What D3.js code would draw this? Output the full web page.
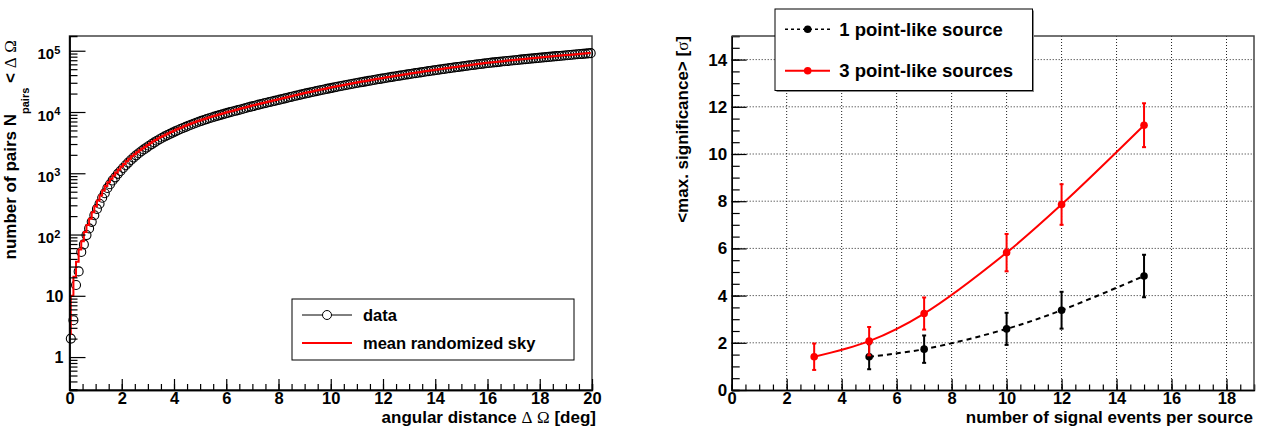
<!DOCTYPE html>
<html>
<head>
<meta charset="utf-8">
<title>pairs and significance</title>
<script src="https://cdn.jsdelivr.net/npm/d3@7"></script>
<style>
  body { margin: 0; background: #fff; }
  svg text { font-family: "Liberation Sans", Arial, Helvetica, sans-serif; font-weight: bold; fill: #000; white-space: pre; }
  .greek { font-family: "Liberation Serif", "DejaVu Serif", serif; font-weight: normal; }
</style>
</head>
<body>
<svg id="chart" width="1262" height="428"></svg>
<script>
// ---- left panel: cumulative number of pairs, bins of 0.1 deg from 0 to 20 deg
const binWidth = 0.1;
const pairsData = [
  2, 4, 15, 25, 52, 69, 98, 126, 161, 206,
  262, 318, 398, 472, 575, 661, 764, 858, 978, 1088,
  1221, 1352, 1494, 1645, 1804, 1964, 2121, 2284, 2453, 2628,
  2809, 2997, 3190, 3389, 3595, 3797, 3995, 4199, 4405, 4615,
  4829, 5048, 5271, 5495, 5725, 5956, 6193, 6433, 6676, 6922,
  7166, 7408, 7651, 7897, 8144, 8397, 8648, 8904, 9158, 9414,
  9674, 9936, 10195, 10460, 10725, 11009, 11312, 11623, 11932, 12245,
  12560, 12883, 13204, 13527, 13859, 14188, 14525, 14860, 15202, 15542,
  15909, 16307, 16709, 17117, 17529, 17947, 18369, 18796, 19228, 19665,
  20107, 20554, 21006, 21462, 21924, 22390, 22862, 23338, 23819, 24305,
  24796, 25292, 25793, 26299, 26809, 27325, 27845, 28371, 28901, 29436,
  29976, 30521, 31071, 31626, 32186, 32750, 33320, 33894, 34474, 35058,
  35647, 36241, 36840, 37444, 38053, 38667, 39286, 39909, 40538, 41171,
  41809, 42453, 43101, 43754, 44412, 45074, 45742, 46415, 47092, 47775,
  48462, 49155, 49852, 50554, 51261, 51973, 52690, 53412, 54138, 54870,
  55606, 56348, 57094, 57845, 58602, 59363, 60129, 60899, 61675, 62456,
  63190, 63875, 64563, 65227, 65919, 66613, 67310, 68008, 68681, 69384,
  70088, 70795, 71504, 72185, 72898, 73613, 74329, 75048, 75737, 76459,
  77183, 77908, 78636, 79365, 80097, 80795, 81530, 82266, 83003, 83743,
  84484, 85226, 85970, 86716, 87463, 88251, 89001, 89753, 90507, 91262
];
const pairsRandomSky = [
  2.3, 10, 20.5, 36, 57, 78, 110, 143, 181, 232,
  290, 358, 434, 522, 620, 712, 811, 917, 1032, 1154,
  1284, 1422, 1569, 1723, 1888, 2042, 2202, 2368, 2540, 2718,
  2902, 3093, 3289, 3491, 3700, 3896, 4096, 4302, 4510, 4722,
  4939, 5158, 5382, 5609, 5840, 6075, 6313, 6553, 6797, 7045,
  7285, 7528, 7775, 8022, 8270, 8521, 8776, 9029, 9287, 9544,
  9805, 10067, 10327, 10592, 10858, 11160, 11465, 11777, 12088, 12402,
  12718, 13043, 13365, 13696, 14023, 14353, 14692, 15028, 15372, 15712,
  16107, 16507, 16913, 17323, 17737, 18157, 18582, 19012, 19446, 19886,
  20330, 20779, 21233, 21692, 22156, 22625, 23099, 23578, 24062, 24550,
  25044, 25542, 26045, 26553, 27066, 27584, 28107, 28635, 29168, 29706,
  30248, 30796, 31348, 31905, 32467, 33035, 33607, 34183, 34765, 35352,
  35944, 36540, 37142, 37748, 38359, 38976, 39597, 40223, 40854, 41490,
  42130, 42776, 43427, 44082, 44742, 45408, 46078, 46753, 47433, 48118,
  48808, 49503, 50202, 50907, 51616, 52331, 53050, 53774, 54504, 55238,
  55977, 56720, 57469, 58223, 58981, 59745, 60513, 61287, 62065, 62848,
  63532, 64219, 64882, 65572, 66266, 66961, 67659, 68330, 69032, 69736,
  70442, 71150, 71830, 72541, 73255, 73971, 74688, 75376, 76097, 76820,
  77545, 78272, 79001, 79731, 80463, 81162, 81897, 82634, 83373, 84113,
  84855, 85598, 86343, 87090, 87838, 88626, 89377, 90130, 90884, 91640
];

// ---- right panel: mean max. significance vs signal events per source
const events1 = [5, 7, 10, 12, 15];
const signif1 = [1.41, 1.73, 2.59, 3.38, 4.83];
const signifErr1 = [0.53, 0.58, 0.68, 0.78, 0.90];
const events3 = [3, 5, 7, 10, 12, 15];
const signif3 = [1.41, 2.07, 3.24, 5.82, 7.86, 11.22];
const signifErr3 = [0.56, 0.60, 0.68, 0.79, 0.86, 0.93];

var svg = d3.select("#chart");

// helper: strip d3 axis default font so css applies
function plainAxis(g) {
  g.attr("font-family", null).attr("font-size", null);
  g.select(".domain").attr("stroke", "#000").attr("stroke-width", 1.4);
  g.selectAll(".tick line").attr("stroke", "#000").attr("stroke-width", 1.2);
}

/* ================= left panel ================= */
var L = {left: 69.5, right: 592, top: 36, bottom: 390};
var xL = d3.scaleLinear().domain([0, 20]).range([L.left, L.right]);
var yL = d3.scaleLog().domain([0.29, 1.74e5]).range([L.bottom, L.top]);

svg.append("rect")
  .attr("x", L.left).attr("y", L.top)
  .attr("width", L.right - L.left).attr("height", L.bottom - L.top)
  .attr("fill", "none").attr("stroke", "#444").attr("stroke-width", 1.5);

// data circles
svg.append("g").selectAll("circle")
  .data(pairsData)
  .enter().append("circle")
  .attr("cx", (d, i) => xL(binWidth * (i + 0.5)))
  .attr("cy", d => yL(d))
  .attr("r", 4.5)
  .attr("fill", "none")
  .attr("stroke", "#000")
  .attr("stroke-width", 1.1);

// randomized sky histogram
var skyLine = d3.line()
  .x((d, i) => xL(binWidth * (i + 0.5)))
  .y(d => yL(d))
  .curve(d3.curveStepBefore);
svg.append("path")
  .attr("d", skyLine(pairsRandomSky))
  .attr("fill", "none")
  .attr("stroke", "#ff0000")
  .attr("stroke-width", 2);

// x axis (ticks inside the frame)
svg.append("g").attr("transform", "translate(0," + L.bottom + ")")
  .call(d3.axisBottom(xL).tickValues(d3.range(0, 20.01, 0.5)).tickSize(-6).tickFormat(""))
  .call(plainAxis);
svg.append("g").attr("transform", "translate(0," + L.bottom + ")")
  .call(d3.axisBottom(xL).tickValues(d3.range(0, 21, 2)).tickSize(-11).tickPadding(2).tickSizeOuter(0))
  .call(plainAxis)
  .selectAll("text").style("font-size", "16.5px");

// y axis, log
var yMajor = [1, 10, 100, 1000, 10000, 100000];
var yMinor = [];
[0.1, 1, 10, 100, 1000, 10000].forEach(function(dec) {
  for (var m = 2; m <= 9; m++) {
    var v = m * dec;
    if (v >= 0.29 && v <= 1.74e5) yMinor.push(v);
  }
});
svg.append("g").attr("transform", "translate(" + L.left + ",0)")
  .call(d3.axisLeft(yL).tickValues(yMinor).tickSize(-8).tickFormat(""))
  .call(plainAxis);
svg.append("g").attr("transform", "translate(" + L.left + ",0)")
  .call(d3.axisLeft(yL).tickValues(yMajor).tickSize(-16).tickFormat("").tickSizeOuter(0))
  .call(plainAxis);

yMajor.forEach(function(v) {
  var p = Math.round(Math.log10(v));
  if (p <= 1) {
    svg.append("text")
      .attr("x", 63.5).attr("y", yL(v) + 6)
      .attr("text-anchor", "end")
      .style("font-size", "16px")
      .text(String(v));
  } else {
    var t = svg.append("text")
      .attr("x", 37.5).attr("y", yL(v) + 8.5)
      .style("font-size", "15px");
    t.append("tspan").text("10");
    t.append("tspan").attr("dy", -5.5).style("font-size", "11px").text(String(p));
  }
});

// axis titles
var xtL = svg.append("text")
  .attr("x", 596).attr("y", 423)
  .attr("text-anchor", "end")
  .style("font-size", "17px");
xtL.append("tspan").text("angular distance ");
xtL.append("tspan").attr("class", "greek").text("\u0394");
xtL.append("tspan").text(" ");
xtL.append("tspan").attr("class", "greek").text("\u03A9");
xtL.append("tspan").text(" [deg]");

var ytL = svg.append("text")
  .attr("transform", "translate(16,40) rotate(-90)")
  .attr("text-anchor", "end")
  .style("font-size", "17px");
ytL.append("tspan").text("number of pairs N");
ytL.append("tspan").attr("dy", 13).style("font-size", "11px").text("pairs");
ytL.append("tspan").attr("dy", -13).text(" < ");
ytL.append("tspan").attr("class", "greek").text("\u0394");
ytL.append("tspan").text(" ");
ytL.append("tspan").attr("class", "greek").text("\u03A9");

// legend
var legL = svg.append("g");
legL.append("rect").attr("x", 292).attr("y", 299).attr("width", 282).attr("height", 61)
  .attr("fill", "#fff").attr("stroke", "#000").attr("stroke-width", 1);
legL.append("line").attr("x1", 302).attr("x2", 352).attr("y1", 315).attr("y2", 315)
  .attr("stroke", "#000").attr("stroke-width", 1);
legL.append("circle").attr("cx", 327).attr("cy", 315).attr("r", 4.5)
  .attr("fill", "#fff").attr("stroke", "#000").attr("stroke-width", 1);
legL.append("text").attr("x", 363).attr("y", 321).style("font-size", "16.5px").text("data");
legL.append("line").attr("x1", 302).attr("x2", 352).attr("y1", 343).attr("y2", 343)
  .attr("stroke", "#ff0000").attr("stroke-width", 2);
legL.append("text").attr("x", 363).attr("y", 349).style("font-size", "16.5px").text("mean randomized sky");

/* ================= right panel ================= */
var R = {left: 731.7, right: 1254, top: 36, bottom: 390};
var xR = d3.scaleLinear().domain([0, 19]).range([R.left, R.right]);
var yR = d3.scaleLinear().domain([0, 15]).range([R.bottom, R.top]);

// grid
var grid = svg.append("g").attr("stroke", "#222").attr("stroke-width", 1).attr("stroke-dasharray", "1,2");
d3.range(2, 19, 2).forEach(function(v) {
  grid.append("line").attr("x1", xR(v)).attr("x2", xR(v)).attr("y1", R.top).attr("y2", R.bottom);
});
d3.range(2, 15, 2).forEach(function(v) {
  grid.append("line").attr("x1", R.left).attr("x2", R.right).attr("y1", yR(v)).attr("y2", yR(v));
});

var curve = d3.line().curve(d3.curveCatmullRom.alpha(0.5));

// 1 source (black dashed)
svg.append("path")
  .attr("d", curve(events1.map((e, i) => [xR(e), yR(signif1[i])])))
  .attr("fill", "none").attr("stroke", "#000").attr("stroke-width", 2)
  .attr("stroke-dasharray", "5,4");
// 3 sources (red)
svg.append("path")
  .attr("d", curve(events3.map((e, i) => [xR(e), yR(signif3[i])])))
  .attr("fill", "none").attr("stroke", "#ff0000").attr("stroke-width", 2);

function errorBars(xs, ys, es, color) {
  var g = svg.append("g").attr("stroke", color).attr("stroke-width", 2).attr("fill", color);
  xs.forEach(function(x, i) {
    var cx = xR(x), y1 = yR(ys[i] + es[i]), y0 = yR(ys[i] - es[i]);
    g.append("line").attr("x1", cx).attr("x2", cx).attr("y1", y1).attr("y2", y0);
    g.append("line").attr("x1", cx - 2).attr("x2", cx + 2).attr("y1", y1).attr("y2", y1);
    g.append("line").attr("x1", cx - 2).attr("x2", cx + 2).attr("y1", y0).attr("y2", y0);
  });
  g.selectAll("circle").data(xs).enter().append("circle")
    .attr("cx", d => xR(d))
    .attr("cy", (d, i) => yR(ys[i]))
    .attr("r", 3.8)
    .attr("stroke", "none");
}
errorBars(events1, signif1, signifErr1, "#000");
errorBars(events3, signif3, signifErr3, "#ff0000");

// axes
svg.append("g").attr("transform", "translate(0," + R.bottom + ")")
  .call(d3.axisBottom(xR).tickValues(d3.range(0, 19.01, 0.5)).tickSize(-5.5).tickFormat(""))
  .call(plainAxis);
svg.append("g").attr("transform", "translate(0," + R.bottom + ")")
  .call(d3.axisBottom(xR).tickValues(d3.range(0, 19, 2)).tickSize(-11).tickPadding(2).tickSizeOuter(0))
  .call(plainAxis)
  .selectAll("text").style("font-size", "16.5px");
svg.append("g").attr("transform", "translate(" + R.left + ",0)")
  .call(d3.axisLeft(yR).tickValues(d3.range(0, 15.01, 0.5)).tickSize(-8).tickFormat(""))
  .call(plainAxis);
svg.append("g").attr("transform", "translate(" + R.left + ",0)")
  .call(d3.axisLeft(yR).tickValues(d3.range(0, 15, 2)).tickSize(-15).tickPadding(4.5).tickSizeOuter(0))
  .call(plainAxis)
  .selectAll("text").style("font-size", "17px");

svg.append("path")
  .attr("d", "M" + R.left + "," + R.top + "H" + R.right + "V" + R.bottom)
  .attr("fill", "none").attr("stroke", "#444").attr("stroke-width", 1.5);

// titles
svg.append("text")
  .attr("x", 1253).attr("y", 423)
  .attr("text-anchor", "end")
  .style("font-size", "17px")
  .text("number of signal events per source");

var ytR = svg.append("text")
  .attr("transform", "translate(688,36) rotate(-90)")
  .attr("text-anchor", "end")
  .style("font-size", "17px");
ytR.append("tspan").text("<max. significance> [");
ytR.append("tspan").attr("class", "greek").text("\u03C3");
ytR.append("tspan").text("]");

// legend
var legR = svg.append("g");
legR.append("rect").attr("x", 776.5).attr("y", 10.5).attr("width", 257.5).attr("height", 81.5)
  .attr("fill", "#888");
legR.append("rect").attr("x", 775).attr("y", 9).attr("width", 257.5).attr("height", 81.5)
  .attr("fill", "#fff").attr("stroke", "#000").attr("stroke-width", 1);
legR.append("line").attr("x1", 785).attr("x2", 830).attr("y1", 29.3).attr("y2", 29.3)
  .attr("stroke", "#000").attr("stroke-width", 1.5).attr("stroke-dasharray", "3,3");
legR.append("circle").attr("cx", 807.7).attr("cy", 29.3).attr("r", 3.8).attr("fill", "#000");
legR.append("text").attr("x", 839.3).attr("y", 35.5).style("font-size", "18.5px").text("1 point-like source");
legR.append("line").attr("x1", 785).attr("x2", 830).attr("y1", 70.7).attr("y2", 70.7)
  .attr("stroke", "#ff0000").attr("stroke-width", 2);
legR.append("circle").attr("cx", 807.7).attr("cy", 70.7).attr("r", 3.8).attr("fill", "#ff0000");
legR.append("text").attr("x", 839.3).attr("y", 77).style("font-size", "18.5px").text("3 point-like sources");
</script>
</body>
</html>
